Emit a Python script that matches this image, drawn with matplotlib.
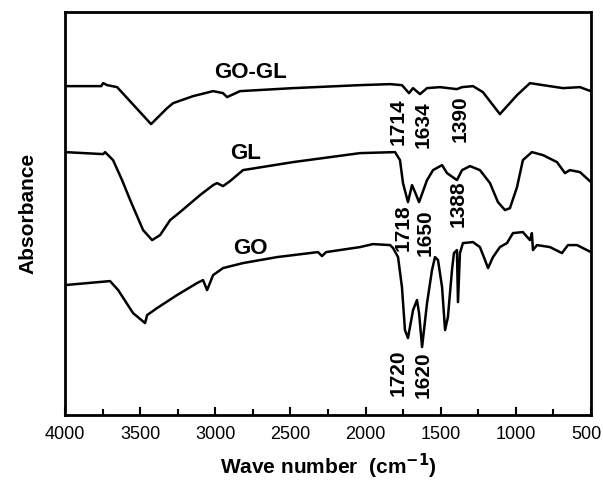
import matplotlib.pyplot as plt
from matplotlib.ticker import MultipleLocator, FuncFormatter

plt.rcParams['font.family'] = ['Liberation Sans', 'DejaVu Sans']

# GO-GL spectrum (top)
wn_gogl = [4000, 3760, 3747, 3720, 3654, 3428, 3321, 3281, 3148, 3015, 2949, 2922, 2836,
           2483, 2037, 1837, 1758, 1711, 1684, 1638, 1591, 1505, 1392, 1358, 1285, 1219,
           1106, 992, 906, 819, 686, 573, 520, 500]
ab_gogl = [3.29, 3.29, 3.32, 3.30, 3.28, 2.91, 3.07, 3.12, 3.19, 3.24, 3.22, 3.18, 3.24,
           3.27, 3.30, 3.31, 3.30, 3.22, 3.27, 3.21, 3.27, 3.28, 3.26, 3.28, 3.29, 3.23,
           3.01, 3.20, 3.32, 3.30, 3.27, 3.28, 3.25, 3.24]

# GL spectrum (middle)
wn_gl = [4000, 3747, 3734, 3681, 3621, 3567, 3481, 3421, 3368, 3301, 3235, 3102, 3015,
         2989, 2949, 2902, 2816, 2483, 2037, 1804, 1771, 1751, 1718, 1691, 1671, 1644,
         1591, 1551, 1491, 1458, 1392, 1358, 1305, 1239, 1172, 1119, 1072, 1039, 992,
         953, 893, 819, 726, 673, 640, 573, 500]
ab_gl = [2.63, 2.61, 2.63, 2.55, 2.35, 2.15, 1.85, 1.75, 1.80, 1.95, 2.03, 2.20, 2.30,
         2.32, 2.29, 2.34, 2.45, 2.53, 2.62, 2.63, 2.55, 2.32, 2.13, 2.30, 2.23, 2.13,
         2.35, 2.45, 2.50, 2.42, 2.35, 2.45, 2.49, 2.45, 2.32, 2.13, 2.05, 2.07, 2.28,
         2.55, 2.63, 2.60, 2.53, 2.42, 2.45, 2.43, 2.33]

# GO spectrum (bottom)
wn_go = [4000, 3701, 3647, 3548, 3468, 3454, 3388, 3255, 3122, 3082, 3055, 3015, 2949,
         2816, 2589, 2317, 2290, 2263, 2037, 1951, 1837, 1817, 1784, 1758, 1738, 1718,
         1684, 1658, 1644, 1624, 1591, 1558, 1538, 1518, 1491, 1471, 1452, 1425, 1412,
         1392, 1385, 1372, 1352, 1285, 1239, 1205, 1185, 1152, 1106, 1059, 1019, 953,
         906, 893, 886, 859, 773, 693, 653, 593, 500]
ab_go = [1.30, 1.34, 1.25, 1.02, 0.92, 1.00, 1.07, 1.20, 1.32, 1.35, 1.25, 1.40, 1.47,
         1.52, 1.58, 1.63, 1.59, 1.63, 1.68, 1.71, 1.70, 1.67, 1.58, 1.28, 0.85, 0.77,
         1.05, 1.15, 1.02, 0.68, 1.12, 1.45, 1.58, 1.55, 1.28, 0.85, 0.98, 1.45, 1.62,
         1.65, 1.13, 1.62, 1.72, 1.73, 1.68, 1.55, 1.47, 1.58, 1.68, 1.72, 1.82, 1.83,
         1.75, 1.82, 1.65, 1.70, 1.68, 1.62, 1.70, 1.70, 1.63]

names = ['GO-GL', 'GL', 'GO']
name_pos = [(2769, 3.43), (2802, 2.62), (2769, 1.67)]

peak_labels = ['1714', '1634', '1390', '1718', '1650', '1388', '1720', '1620']
peak_pos = [(1784, 2.93), (1618, 2.90), (1372, 2.96), (1751, 1.87), (1605, 1.82),
            (1385, 2.11), (1784, 0.42), (1618, 0.40)]

fig = plt.figure(figsize=(6.03, 4.86), dpi=100)
ax = fig.add_axes([0.108, 0.146, 0.872, 0.829])

for wn, ab in [(wn_gogl, ab_gogl), (wn_gl, ab_gl), (wn_go, ab_go)]:
    ax.plot(wn, ab, color='black', lw=1.8, solid_joinstyle='round')

for name, (x, y) in zip(names, name_pos):
    ax.text(x, y, name, fontsize=16, fontweight='bold', ha='center', va='center')

for lab, (x, y) in zip(peak_labels, peak_pos):
    ax.text(x, y, lab, fontsize=15, fontweight='bold', rotation=90,
            ha='center', va='center')

ax.set_xlim(4000, 500)
ax.set_ylim(0, 4.03)
ax.xaxis.set_major_locator(MultipleLocator(500))
ax.xaxis.set_minor_locator(MultipleLocator(250))
# the 500 label sits at the figure edge, so it is drawn separately (right aligned)
ax.xaxis.set_major_formatter(FuncFormatter(lambda v, p: '' if v <= 500 else '%d' % v))
ax.tick_params(axis='x', which='major', direction='in', length=6, width=1.5,
               labelsize=13, pad=8)
ax.tick_params(axis='x', which='minor', direction='in', length=4, width=1.5)
ax.annotate('500', xy=(500, 0), xycoords=('data', 'axes fraction'),
            xytext=(8, -8), textcoords='offset points', ha='right', va='top', fontsize=13)
ax.set_yticks([])
for s in ax.spines.values():
    s.set_linewidth(2)

ax.set_xlabel('Wave number  (cm$^{\\mathbf{-1}}$)', fontsize=15, fontweight='bold', labelpad=6)
ax.set_ylabel('Absorbance', fontsize=15, fontweight='bold', labelpad=20)

fig.savefig('out.png', dpi=100)
